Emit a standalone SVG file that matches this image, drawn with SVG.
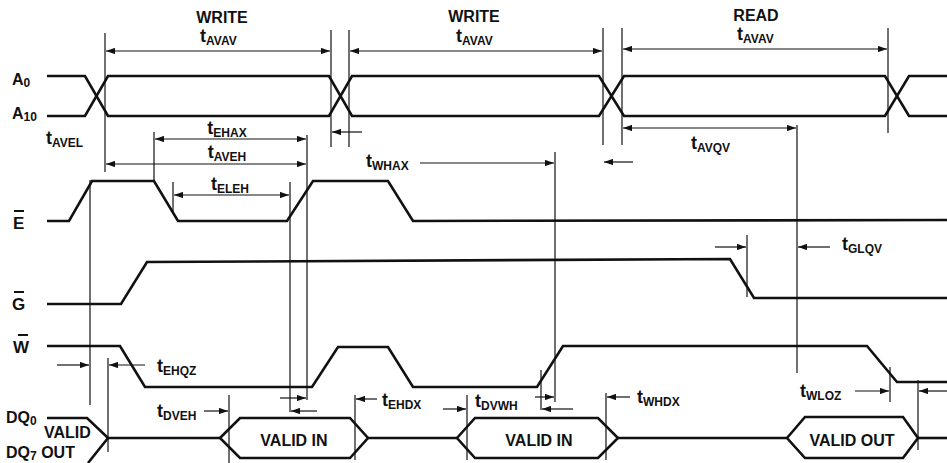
<svg xmlns="http://www.w3.org/2000/svg" width="947" height="463" viewBox="0 0 947 463">
<defs>
<style>
.sig{fill:none;stroke:#111;stroke-width:2.6;stroke-linejoin:miter}
.ref{fill:none;stroke:#111;stroke-width:1.2}
.arr{fill:none;stroke:#111;stroke-width:1.2}
.tx{font-family:"Liberation Sans",Arial,sans-serif;font-weight:bold;fill:#111}
.t{font-size:18px}
.s{font-size:12px}
.n{font-size:16px}
.big{font-size:17px}
.hd{font-size:16px}
.box{font-size:16px}
</style>
<marker id="ah" viewBox="0 0 10 7" refX="10" refY="3.5" markerWidth="9" markerHeight="6.3" orient="auto-start-reverse" markerUnits="userSpaceOnUse">
<path d="M0,0 L10,3.5 L0,7 z" fill="#111"/>
</marker>
</defs>
<rect width="947" height="463" fill="#fff"/>

<g id="labels" class="tx">
<text class="hd" x="222" y="23" text-anchor="middle">WRITE</text>
<text class="hd" x="474" y="22" text-anchor="middle">WRITE</text>
<text class="hd" x="756" y="21" text-anchor="middle">READ</text>
</g>

<g id="sig-address">
<text class="tx n" x="12" y="85">A<tspan class="s" dy="2">0</tspan></text>
<text class="tx n" x="12" y="119">A<tspan class="s" dy="2">10</tspan></text>
<path class="sig" d="M47,76 L85,76 L108,116 L329,116 L352,76 L599,76 L624,116 L885,116 L909,76 L947,76"/>
<path class="sig" d="M47,116 L85,116 L108,76 L329,76 L352,116 L599,116 L624,76 L885,76 L909,116 L947,116"/>
</g>

<g id="sig-E">
<text class="tx big" x="13" y="229">E</text>
<line x1="14" y1="211" x2="24" y2="211" stroke="#111" stroke-width="2"/>
<path class="sig" d="M47,221 L69,221 L92,181 L154,181 L178,221 L287,221 L313,181 L388,181 L413,221 L947,220"/>
</g>

<g id="sig-G">
<text class="tx big" x="12" y="310">G</text>
<line x1="14" y1="292" x2="24" y2="292" stroke="#111" stroke-width="2"/>
<path class="sig" d="M47,304 L121,304 L147,262 L730,259 L754,298 L947,298"/>
</g>

<g id="sig-W">
<text class="tx big" x="13" y="353">W</text>
<line x1="18" y1="335" x2="28" y2="335" stroke="#111" stroke-width="2"/>
<path class="sig" d="M47,346 L120,346 L145,387 L312,387 L338,347 L388,347 L413,387 L537,387 L563,346 L867,346 L897,382 L947,382"/>
</g>

<g id="sig-DQ">
<text class="tx n" x="6" y="423">DQ<tspan class="s" dy="2">0</tspan></text>
<text class="tx n" x="44" y="438">VALID</text>
<text class="tx n" x="6" y="458">DQ<tspan class="s" dy="2">7</tspan><tspan dy="-2"> OUT</tspan></text>
<path class="sig" d="M47,418 L87,418 L108,438 L220,438"/>
<path class="sig" d="M88,463 L108,438"/>
<path class="sig" d="M220,438 L240,418 L350,418 L368,438 L350,458 L240,458 Z"/>
<path class="sig" d="M368,438 L457,438"/>
<path class="sig" d="M457,438 L475,418 L598,418 L618,438 L598,458 L475,458 Z"/>
<path class="sig" d="M618,438 L787,438"/>
<path class="sig" d="M787,438 L805,417 L903,417 L918,438 L903,458 L805,458 Z"/>
<path class="sig" d="M918,438 L947,438"/>
<text class="tx box" x="294" y="446" text-anchor="middle">VALID IN</text>
<text class="tx box" x="539" y="446" text-anchor="middle">VALID IN</text>
<text class="tx box" x="852" y="446" text-anchor="middle">VALID OUT</text>
</g>

<g id="connectors">
<line class="ref" x1="105" y1="33" x2="105" y2="172"/>
<line class="ref" x1="331" y1="30" x2="331" y2="147"/>
<line class="ref" x1="349" y1="30" x2="349" y2="147"/>
<line class="ref" x1="603" y1="28" x2="603" y2="145"/>
<line class="ref" x1="622" y1="28" x2="622" y2="145"/>
<line class="ref" x1="888" y1="28" x2="888" y2="133"/>
<line class="ref" x1="797" y1="125" x2="797" y2="373"/>
<line class="ref" x1="154" y1="132" x2="154" y2="181"/>
<line class="ref" x1="307" y1="135" x2="307" y2="400"/>
<line class="ref" x1="173" y1="182" x2="173" y2="214"/>
<line class="ref" x1="290" y1="182" x2="290" y2="412"/>
<line class="ref" x1="90" y1="180" x2="90" y2="405"/>
<line class="ref" x1="555" y1="152" x2="555" y2="402"/>
<line class="ref" x1="747" y1="235" x2="747" y2="297"/>
<line class="ref" x1="108" y1="358" x2="108" y2="452"/>
<line class="ref" x1="229" y1="395" x2="229" y2="463"/>
<line class="ref" x1="355" y1="395" x2="355" y2="460"/>
<line class="ref" x1="467" y1="395" x2="467" y2="460"/>
<line class="ref" x1="541" y1="370" x2="541" y2="410"/>
<line class="ref" x1="606" y1="393" x2="606" y2="460"/>
<line class="ref" x1="890" y1="367" x2="890" y2="402"/>
<line class="ref" x1="918" y1="380" x2="918" y2="450"/>

<line class="arr" x1="106" y1="51" x2="330" y2="51" marker-start="url(#ah)" marker-end="url(#ah)"/>
<line class="arr" x1="350" y1="51" x2="602" y2="51" marker-start="url(#ah)" marker-end="url(#ah)"/>
<line class="arr" x1="623" y1="49" x2="887" y2="49" marker-start="url(#ah)" marker-end="url(#ah)"/>
<line class="arr" x1="362" y1="132" x2="332" y2="132" marker-end="url(#ah)"/>
<line class="arr" x1="623" y1="128" x2="796" y2="128" marker-start="url(#ah)" marker-end="url(#ah)"/>
<line class="arr" x1="633" y1="162" x2="604" y2="162" marker-end="url(#ah)"/>
<line class="arr" x1="155" y1="139" x2="306" y2="139" marker-start="url(#ah)" marker-end="url(#ah)"/>
<line class="arr" x1="106" y1="164" x2="306" y2="164" marker-start="url(#ah)" marker-end="url(#ah)"/>
<line class="arr" x1="174" y1="195" x2="289" y2="195" marker-start="url(#ah)" marker-end="url(#ah)"/>
<line class="arr" x1="420" y1="163" x2="554" y2="163" marker-end="url(#ah)"/>
<line class="arr" x1="715" y1="247" x2="746" y2="247" marker-end="url(#ah)"/>
<line class="arr" x1="830" y1="247" x2="798" y2="247" marker-end="url(#ah)"/>
<line class="arr" x1="57" y1="365" x2="89" y2="365" marker-end="url(#ah)"/>
<line class="arr" x1="145" y1="365" x2="109" y2="365" marker-end="url(#ah)"/>
<line class="arr" x1="204" y1="411" x2="228" y2="411" marker-end="url(#ah)"/>
<line class="arr" x1="280" y1="398" x2="306" y2="398" marker-end="url(#ah)"/>
<line class="arr" x1="317" y1="411" x2="291" y2="411" marker-end="url(#ah)"/>
<line class="arr" x1="377" y1="399" x2="356" y2="399" marker-end="url(#ah)"/>
<line class="arr" x1="443" y1="409" x2="466" y2="409" marker-end="url(#ah)"/>
<line class="arr" x1="535" y1="397" x2="554" y2="397" marker-end="url(#ah)"/>
<line class="arr" x1="573" y1="409" x2="542" y2="409" marker-end="url(#ah)"/>
<line class="arr" x1="630" y1="397" x2="607" y2="397" marker-end="url(#ah)"/>
<line class="arr" x1="855" y1="391" x2="889" y2="391" marker-end="url(#ah)"/>
<line class="arr" x1="947" y1="391" x2="919" y2="391" marker-end="url(#ah)"/>
</g>

<g id="timing-labels" class="tx">
<text class="t" x="200" y="42">t<tspan class="s" dy="3">AVAV</tspan></text>
<text class="t" x="456" y="42">t<tspan class="s" dy="3">AVAV</tspan></text>
<text class="t" x="737" y="40">t<tspan class="s" dy="3">AVAV</tspan></text>
<text class="t" x="46" y="144">t<tspan class="s" dy="3">AVEL</tspan></text>
<text class="t" x="227" y="134" text-anchor="middle">t<tspan class="s" dy="3">EHAX</tspan></text>
<text class="t" x="227" y="158" text-anchor="middle">t<tspan class="s" dy="3">AVEH</tspan></text>
<text class="t" x="230" y="190" text-anchor="middle">t<tspan class="s" dy="3">ELEH</tspan></text>
<text class="t" x="366" y="167">t<tspan class="s" dy="3">WHAX</tspan></text>
<text class="t" x="691" y="149">t<tspan class="s" dy="3">AVQV</tspan></text>
<text class="t" x="842" y="250">t<tspan class="s" dy="3">GLQV</tspan></text>
<text class="t" x="157" y="372">t<tspan class="s" dy="3">EHQZ</tspan></text>
<text class="t" x="157" y="417">t<tspan class="s" dy="3">DVEH</tspan></text>
<text class="t" x="382" y="406">t<tspan class="s" dy="3">EHDX</tspan></text>
<text class="t" x="475" y="407">t<tspan class="s" dy="3">DVWH</tspan></text>
<text class="t" x="637" y="403">t<tspan class="s" dy="3">WHDX</tspan></text>
<text class="t" x="800" y="397">t<tspan class="s" dy="3">WLOZ</tspan></text>
</g>
</svg>
